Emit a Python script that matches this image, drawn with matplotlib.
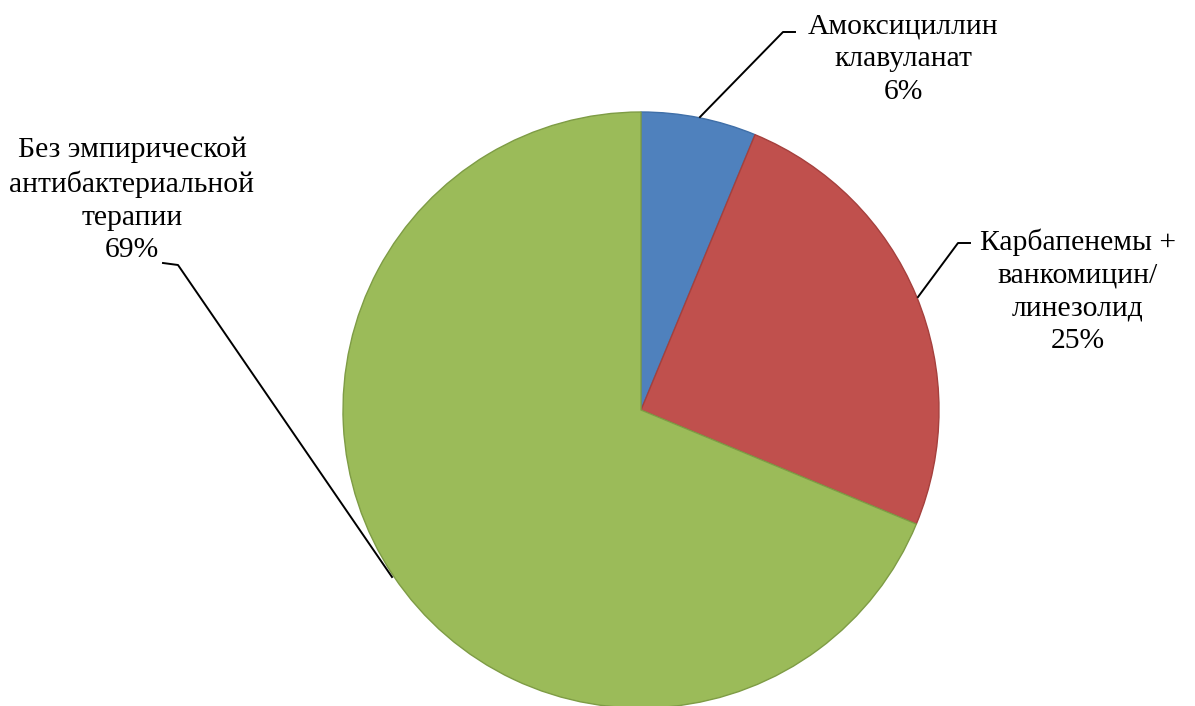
import matplotlib.pyplot as plt

# patients by empirical therapy (n = 16)
labels = ["Амоксициллин\nклавуланат", "Карбапенемы +\nванкомицин/\nлинезолид",
          "Без эмпирической\nантибактериальной\nтерапии"]
counts = [1, 4, 11]
colors = ["#4F81BD", "#C0504D", "#9BBB59"]
edges = ["#3F6FA8", "#A5403D", "#7E9C45"]

W, H = 1195, 706
fig = plt.figure(figsize=(W / 100, H / 100), dpi=100)
ax = fig.add_axes([0, 0, 1, 1])

cx, cy, r = 641, H - 410, 298
wedges, _ = ax.pie(counts, colors=colors, startangle=90, counterclock=False,
                   center=(cx, cy), radius=r,
                   wedgeprops=dict(linewidth=1.0))
for w, ec in zip(wedges, edges):
    w.set_edgecolor(ec)

ax.set_xlim(0, W)
ax.set_ylim(0, H)
ax.set_aspect("auto")
ax.axis("off")

total = sum(counts)
pct = ["%d%%" % round(c * 100 / total) for c in counts]

# label positions (pixel coords, top-left origin) and leader lines
text_pos = [(903, 59), (1078, 291), (132, 200)]
leaders = [[(700, 117), (783, 32), (795, 32)],
           [(918, 297), (958, 243), (970, 243)],
           [(392, 577), (178, 265), (163, 263)]]

font = dict(family="Liberation Serif", fontsize=21.3, color="black")
for lab, p, (tx, ty), pts in zip(labels, pct, text_pos, leaders):
    ax.text(tx, H - ty, lab + "\n" + p, ha="center", va="center",
            linespacing=1.34, **font)
    xs = [q[0] for q in pts]
    ys = [H - q[1] for q in pts]
    ax.plot(xs, ys, color="black", linewidth=1.4)

fig.savefig("out.png", dpi=100, facecolor="white")
